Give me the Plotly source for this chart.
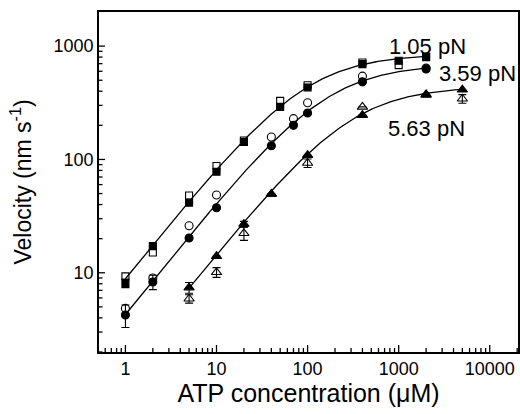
import numpy as np
import plotly.graph_objects as go

# ---- data ----
atp_105 = [1, 2, 5, 10, 20, 50, 100, 400, 1000, 2000]
v105_filled = [8.1, 17.2, 41.5, 78, 143, 291, 432, 693, 742, 800]
v105_open = [9.3, 15.1, 48, 87.5, 147, 329, 452, 717, 680, 805]
e105_filled = [0.7, 0, 0, 0, 0, 0, 0, 0, 0, 0]

atp_359 = [1, 2, 5, 10, 40, 70, 100, 400, 2000]
v359_filled = [4.24, 8.3, 20.3, 37.5, 132, 200, 257, 484, 628]
v359_open = [4.85, 9.0, 26, 48.5, 158, 229, 316, 543, 640]
e359_filled = [0.95, 1.2, 0, 0, 0, 0, 0, 0, 0]

atp_563 = [5, 10, 20, 40, 100, 400, 2000, 5000]
v563_filled = [7.4, 14.0, 26.9, 49.5, 109, 246, 375, 412]
v563_open = [5.9, 10.1, 22.3, 49.5, 93, 291, 370, 343]
e563_filled = [0.8, 0, 1.5, 0, 0, 0, 0, 0]
e563_open = [0.5, 1.0, 3.0, 0, 8, 0, 0, 30]

# Michaelis-Menten fit parameters (Vmax, Km) and fit ranges
fit_105 = (850, 95, 1, 2000)
fit_359 = (690, 160, 1, 2000)
fit_563 = (440, 295, 5, 5000)

labels = ["1.05 pN", "3.59 pN", "5.63 pN"]
label_pos = [(3.313, 3.0), (3.866, 2.759), (3.302, 2.274)]

x_ticks = [1, 10, 100, 1000, 10000]
y_ticks = [10, 100, 1000]
minor_digits = [2, 3, 4, 5, 6, 7, 8, 9]
x_minor = [d * 10 ** k for k in range(-1, 5) for d in minor_digits]
y_minor = [d * 10 ** k for k in range(0, 4) for d in minor_digits]

X_RANGE = [-0.29, 4.31]
Y_RANGE = [0.301, 3.301]

FONT = "Liberation Sans, Arial, sans-serif"

fig = go.Figure()

def add_fit(params):
    vmax, km, lo, hi = params
    xs = np.logspace(np.log10(lo), np.log10(hi), 200)
    fig.add_trace(go.Scatter(x=xs, y=vmax * xs / (km + xs), mode="lines",
                             line=dict(color="black", width=1.3),
                             hoverinfo="skip"))

for p in (fit_105, fit_359, fit_563):
    add_fit(p)

def add_pts(x, y, symbol, err=None, size=7):
    tr = dict(x=x, y=y, mode="markers",
              marker=dict(symbol=symbol, size=size, color="black",
                          line=dict(color="black", width=1.1)))
    if err is not None:
        tr["error_y"] = dict(type="data", array=err, visible=True,
                             color="black", thickness=1.1, width=4)
    fig.add_trace(go.Scatter(**tr))

add_pts(atp_105, v105_filled, "square", e105_filled, 7)
add_pts(atp_105, v105_open, "square-open", None, 7)
add_pts(atp_359, v359_filled, "circle", e359_filled, 8)
add_pts(atp_359, v359_open, "circle-open", None, 8)
add_pts(atp_563, v563_filled, "triangle-up", e563_filled, 9)
add_pts(atp_563, v563_open, "triangle-up-open", e563_open, 9)

for txt, (ax_, ay_) in zip(labels, label_pos):
    fig.add_annotation(x=ax_, y=ay_, xref="x", yref="y", text=txt,
                       showarrow=False, font=dict(family=FONT, size=22, color="black"))

# tick marks as short lines placed at the tick values through the axis scales
def tick_trace(vals, axis, length_px):
    xs, ys = [], []
    for v in vals:
        if axis == "x":
            xs += [v, v, None]
            ys += [10 ** Y_RANGE[0], 10 ** (Y_RANGE[0] + length_px * (Y_RANGE[1] - Y_RANGE[0]) / 340), None]
        else:
            xs += [10 ** X_RANGE[0], 10 ** (X_RANGE[0] + length_px * (X_RANGE[1] - X_RANGE[0]) / 419), None]
            ys += [v, v, None]
    fig.add_trace(go.Scatter(x=xs, y=ys, mode="lines", line=dict(color="black", width=1.3),
                             hoverinfo="skip", cliponaxis=False))

tick_trace([v for v in x_ticks if 10 ** X_RANGE[0] < v < 10 ** X_RANGE[1]], "x", 7)
tick_trace([v for v in x_minor if 10 ** X_RANGE[0] < v < 10 ** X_RANGE[1]], "x", 4)
tick_trace(y_ticks, "y", 6)
tick_trace([v for v in y_minor if 10 ** Y_RANGE[0] < v < 10 ** Y_RANGE[1]], "y", 3.5)

axis_common = dict(
    type="log", showline=True, linecolor="black", linewidth=1.6, mirror=True,
    ticks="", showgrid=False, zeroline=False, automargin=False, tickmode="array",
    tickfont=dict(family=FONT, size=18, color="black"),
)

fig.update_layout(
    width=520, height=414,
    margin=dict(l=99, r=2, t=12, b=62),
    paper_bgcolor="white", plot_bgcolor="white",
    showlegend=False,
    xaxis=dict(axis_common, range=X_RANGE, tickvals=x_ticks,
               ticktext=[str(v) for v in x_ticks],
               title=dict(text="ATP concentration (μM)", standoff=4,
                          font=dict(family=FONT, size=25, color="black"))),
    yaxis=dict(axis_common, range=Y_RANGE, tickvals=y_ticks,
               ticktext=[str(v) for v in y_ticks],
               title=dict(text="Velocity (nm s<sup>-1</sup>)", standoff=16,
                          font=dict(family=FONT, size=23, color="black"))),
)

fig.write_html("out.html", config={"displayModeBar": False},
               post_script="document.body.style.margin='0';")
